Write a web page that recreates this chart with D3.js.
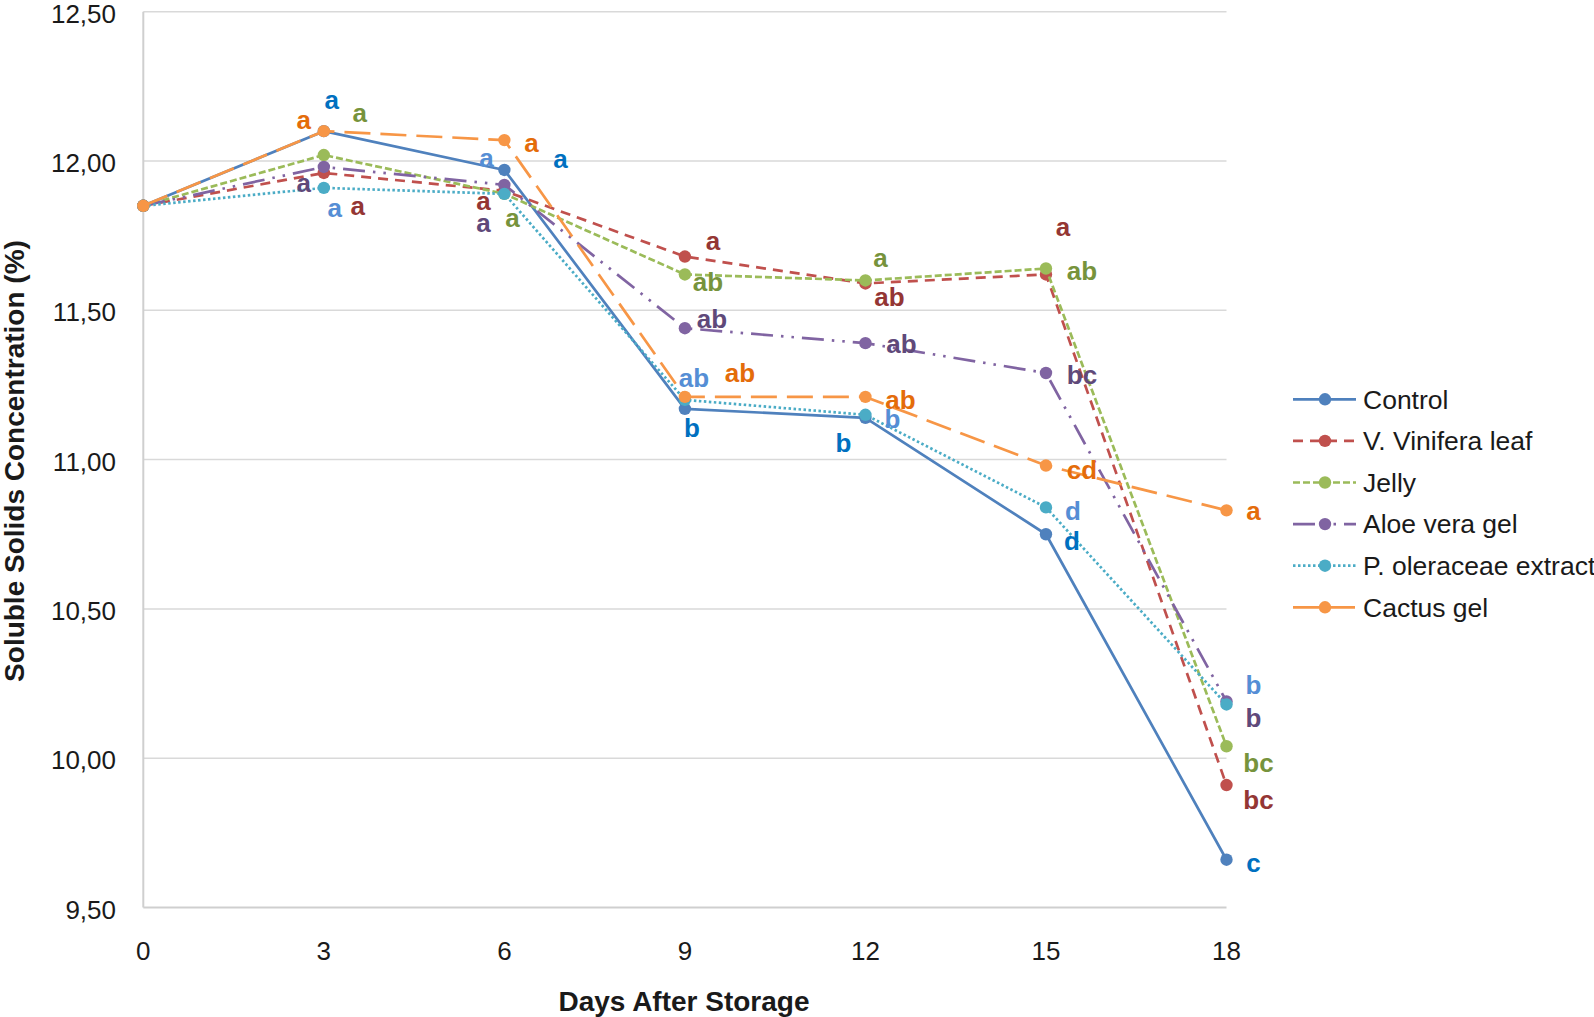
<!DOCTYPE html>
<html>
<head>
<meta charset="utf-8">
<script src="https://cdn.jsdelivr.net/npm/d3@7"></script>
<style>
  html, body { margin: 0; padding: 0; background: #ffffff; }
  svg { display: block; }
  text { font-family: "Liberation Sans", Arial, sans-serif; }
</style>
</head>
<body>
<svg id="chart" width="1594" height="1017"></svg>
<script>
// ---------- DATA ----------
const days = [0, 3, 6, 9, 12, 15, 18];
const seriesNames = ["Control", "V. Vinifera leaf", "Jelly", "Aloe vera gel", "P. oleraceae extract", "Cactus gel"];
const controlValues   = [11.85, 12.10, 11.97, 11.17, 11.14, 10.75, 9.66];
const viniferaValues  = [11.85, 11.96, 11.90, 11.68, 11.59, 11.62, 9.91];
const jellyValues     = [11.85, 12.02, 11.89, 11.62, 11.60, 11.64, 10.04];
const aloeValues      = [11.85, 11.98, 11.92, 11.44, 11.39, 11.29, 10.19];
const oleraceaeValues = [11.85, 11.91, 11.89, 11.20, 11.15, 10.84, 10.18];
const cactusValues    = [11.85, 12.10, 12.07, 11.21, 11.21, 10.98, 10.83];

const controlLetters   = ["", "a", "a", "b", "b", "d", "c"];
const viniferaLetters  = ["", "a", "a", "a", "ab", "a", "bc"];
const jellyLetters     = ["", "a", "a", "ab", "a", "ab", "bc"];
const aloeLetters      = ["", "a", "a", "ab", "ab", "bc", "b"];
const oleraceaeLetters = ["", "a", "a", "ab", "b", "d", "b"];
const cactusLetters    = ["", "a", "a", "ab", "ab", "cd", "a"];

const yTickValues = [9.5, 10.0, 10.5, 11.0, 11.5, 12.0, 12.5];
const xTickValues = [0, 3, 6, 9, 12, 15, 18];
const xTitle = "Days After Storage";
const yTitle = "Soluble Solids Concentration (%)";

// ---------- STYLE / LAYOUT ----------
const lineColors  = ["#4F81BD", "#C0504D", "#9BBB59", "#8064A2", "#4BACC6", "#F79646"];
const labelColors = ["#0070C0", "#943634", "#77933C", "#5F497A", "#558ED5", "#E46C0A"];
const dashes = [null, "10,7", "7,3", "22,8,2.5,8,2.5,8", "2.5,2.5", "26,10"];
// label offsets (pixels, from each point)
const labelOffsets = [
  [null, [8, -29], [56, -9], [7, 19], [-22, 25], [26, 6], [27, 5]],
  [null, [34, 35], [-21, 12], [28, -13], [24, 13], [17, -45], [32, 15]],
  [null, [36, -40], [8, 26], [23, 7], [15, -20], [36, 2], [32, 16]],
  [null, [-20, 18], [-21, 40], [27, -10], [36, 0], [36, 2], [27, 16]],
  [null, [11, 22], [-18, -34], [9, -22], [27, 4], [27, 3], [27, -20]],
  [null, [-20, -9], [27, 5], [55, -24], [35, 3], [36, 4], [27, 3]]
];

const allValues = [controlValues, viniferaValues, jellyValues, aloeValues, oleraceaeValues, cactusValues];
const allLetters = [controlLetters, viniferaLetters, jellyLetters, aloeLetters, oleraceaeLetters, cactusLetters];

const series = seriesNames.map((name, i) => ({
  name, i,
  points: days.map((d, j) => ({ day: d, value: allValues[i][j], letter: allLetters[i][j], off: labelOffsets[i][j] }))
}));

const svg = d3.select("#chart");
const x = d3.scaleLinear().domain([0, 18]).range([143.3, 1226.5]);
const y = d3.scaleLinear().domain([9.5, 12.5]).range([907.5, 11.7]);

// gridlines
svg.append("g").selectAll("line").data(yTickValues.filter(v => v > 9.5)).join("line")
  .attr("x1", x(0)).attr("x2", x(18))
  .attr("y1", d => y(d)).attr("y2", d => y(d))
  .attr("stroke", "#D9D9D9").attr("stroke-width", 1.5);

// axes lines
svg.append("line").attr("x1", x(0)).attr("x2", x(0)).attr("y1", y(12.5)).attr("y2", y(9.5))
  .attr("stroke", "#CFCFCF").attr("stroke-width", 2);
svg.append("line").attr("x1", x(0)).attr("x2", x(18)).attr("y1", y(9.5)).attr("y2", y(9.5))
  .attr("stroke", "#CFCFCF").attr("stroke-width", 2);

// y tick labels
const fmt = v => d3.format(".2f")(v).replace(".", ",");
svg.append("g").selectAll("text").data(yTickValues).join("text")
  .attr("x", 116).attr("y", d => y(d) + 11)
  .attr("text-anchor", "end").attr("font-size", 26).attr("fill", "#1a1a1a")
  .text(fmt);

// x tick labels
svg.append("g").selectAll("text").data(xTickValues).join("text")
  .attr("x", d => x(d)).attr("y", 960)
  .attr("text-anchor", "middle").attr("font-size", 26).attr("fill", "#1a1a1a")
  .text(d => d);

// titles
svg.append("text").attr("x", 684).attr("y", 1011).attr("text-anchor", "middle")
  .attr("font-size", 28).attr("font-weight", "bold").attr("fill", "#1a1a1a").text(xTitle);
svg.append("text").attr("transform", "translate(24,461) rotate(-90)").attr("text-anchor", "middle")
  .attr("font-size", 28).attr("font-weight", "bold").attr("fill", "#1a1a1a").text(yTitle);

// lines
const line = d3.line().x(d => x(d.day)).y(d => y(d.value));
const sg = svg.append("g").selectAll("g").data(series).join("g");
sg.append("path")
  .attr("d", d => line(d.points))
  .attr("fill", "none")
  .attr("stroke", d => lineColors[d.i])
  .attr("stroke-width", 2.7)
  .attr("stroke-dasharray", d => dashes[d.i])
  .attr("stroke-linejoin", "round");
sg.selectAll("circle").data(d => d.points.map(p => ({ ...p, i: d.i }))).join("circle")
  .attr("cx", d => x(d.day)).attr("cy", d => y(d.value)).attr("r", 6.2)
  .attr("fill", d => lineColors[d.i]);

// letter labels
const labelData = series.flatMap(s => s.points.filter(p => p.letter).map(p => ({ ...p, i: s.i })));
svg.append("g").selectAll("text").data(labelData).join("text")
  .attr("x", d => x(d.day) + d.off[0])
  .attr("y", d => y(d.value) + d.off[1] + (/[bd]/.test(d.letter) ? 9.4 : 6.8))
  .attr("text-anchor", "middle")
  .attr("font-size", 26).attr("font-weight", "bold")
  .attr("fill", d => labelColors[d.i])
  .text(d => d.letter);

// legend
const legY0 = 399.3, legStep = 41.6;
const lg = svg.append("g").selectAll("g").data(series).join("g")
  .attr("transform", d => `translate(0,${legY0 + d.i * legStep})`);
lg.append("line").attr("x1", 1293).attr("x2", 1356).attr("y1", 0).attr("y2", 0)
  .attr("stroke", d => lineColors[d.i]).attr("stroke-width", 2.7)
  .attr("stroke-dasharray", d => dashes[d.i]);
lg.append("circle").attr("cx", 1325).attr("cy", 0).attr("r", 6.2).attr("fill", d => lineColors[d.i]);
lg.append("text").attr("x", 1363).attr("y", 9.3).attr("font-size", 26.5).attr("fill", "#1a1a1a")
  .text(d => d.name);
</script>
</body>
</html>
